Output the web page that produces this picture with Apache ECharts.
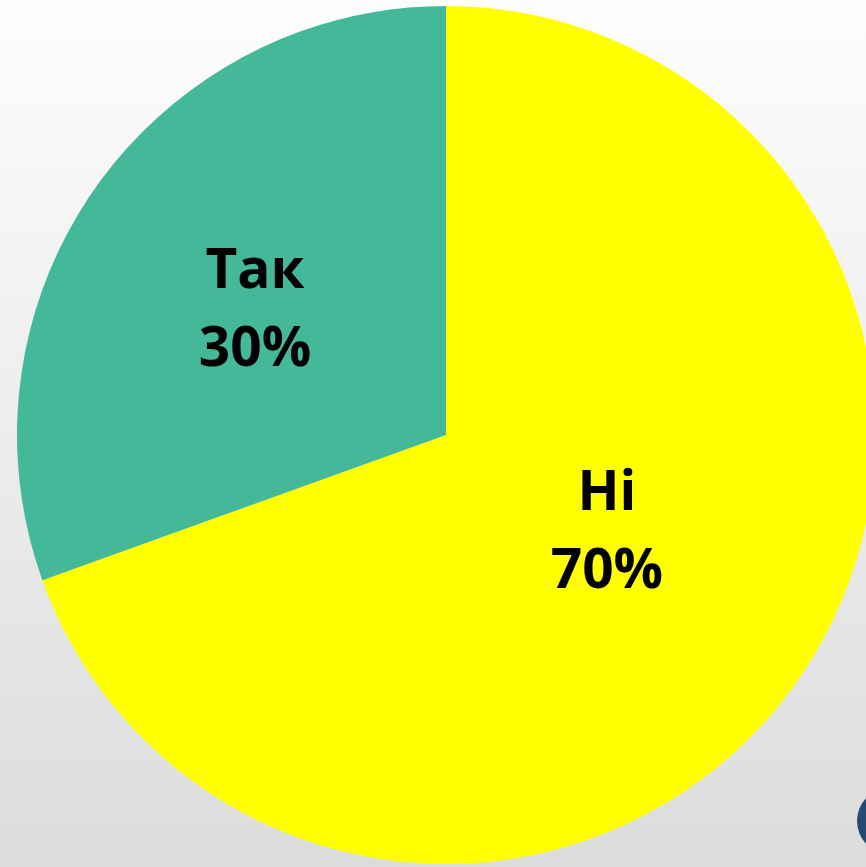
<!DOCTYPE html>
<html>
<head>
<meta charset="utf-8">
<script src="https://cdn.jsdelivr.net/npm/echarts@6/dist/echarts.min.js"></script>
<style>
html, body { margin: 0; padding: 0; }
#chart { width: 866px; height: 867px; }
</style>
</head>
<body>
<div id="chart"></div>
<script>
// categories and shares (slice split in the picture sits a touch past 30%)
const categories = ["Ні", "Так"];
const values = [69.5, 30.5];
const labelsPct = [70, 30];
const colors = ["#FFFF00", "#43B999"];
// nudges so labels sit where they do in the picture
const labelOffsets = [[-17, -27], [-13, 1]];

let chart = echarts.init(document.getElementById("chart"));
chart.setOption({
  animation: false,
  backgroundColor: {
    type: "linear", x: 0, y: 0, x2: 0, y2: 1,
    colorStops: [
      { offset: 0, color: "#FDFDFD" },
      { offset: 1, color: "#DCDCDC" }
    ]
  },
  graphic: [
    {
      type: "circle",
      shape: { cx: 890, cy: 821, r: 33 },
      style: { fill: "#264A73" }
    }
  ],
  series: [
    {
      type: "pie",
      center: [446, 435],
      radius: [0, 429],
      startAngle: 90,
      clockwise: true,
      label: {
        show: true,
        position: "inside",
        formatter: function (p) {
          return p.name + "\n" + labelsPct[p.dataIndex] + "%";
        },
        fontFamily: "Open Sans",
        fontWeight: "bold",
        fontSize: 55,
        lineHeight: 78,
        color: "#000000"
      },
      labelLine: { show: false },
      emphasis: { disabled: true },
      data: categories.map(function (name, i) {
        return {
          name: name,
          value: values[i],
          itemStyle: { color: colors[i] },
          label: { offset: labelOffsets[i] }
        };
      })
    }
  ]
});
</script>
</body>
</html>
